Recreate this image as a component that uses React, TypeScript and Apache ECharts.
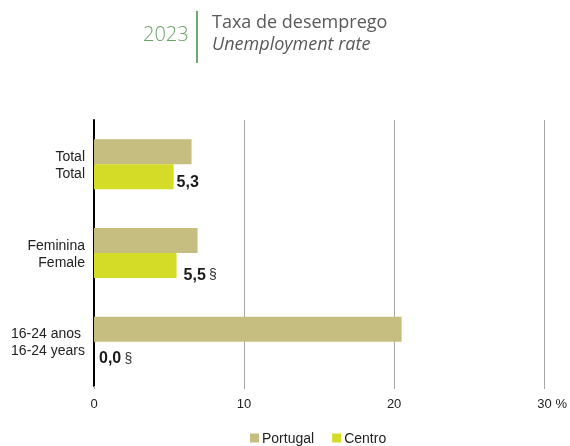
import React, { useEffect, useRef } from "react";
import * as echarts from "echarts";

const categories = ["Total\nTotal", "Feminina\nFemale", "16-24 anos \n16-24 years"];
const portugal = [6.5, 6.9, 20.5];
const centro = [5.3, 5.5, 0.0];
const centroNotes = ["", "§", "§"];
const xTicks = [0, 10, 20, 30];
const seriesNames = ["Portugal", "Centro"];
const year = "2023";
const titlePt = "Taxa de desemprego";
const titleEn = "Unemployment rate";

const labelOffsets = [
  { dist: 3, dy: 4.5 },
  { dist: 7, dy: 8.5 },
  { dist: 5, dy: 3.5 },
];

const fmt = (v: number) => v.toFixed(1).replace(".", ",");

export default function App() {
  const ref = useRef<HTMLDivElement>(null);
  useEffect(() => {
    if (!ref.current) return;
    const chart = echarts.init(ref.current, undefined, { renderer: "svg" });
    const font = "'Liberation Sans', Arial, sans-serif";
    const head = "'Open Sans', 'Noto Sans', sans-serif";
    chart.setOption({
      animation: false,
      textStyle: { fontFamily: font },
      grid: { left: 94, right: 25, top: 120, bottom: 60, containLabel: false },
      legend: {
        data: seriesNames,
        left: 245,
        top: 426,
        icon: "rect",
        itemWidth: 9,
        itemHeight: 9,
        itemGap: 18,
        textStyle: { fontSize: 14, color: "#222", fontFamily: font, padding: [0, 0, 0, -2] },
      },
      xAxis: {
        type: "value",
        min: xTicks[0],
        max: xTicks[xTicks.length - 1],
        interval: 10,
        axisLine: { show: false },
        axisTick: { show: true, length: 3, lineStyle: { color: "#a6a6a6" } },
        splitLine: { show: true, lineStyle: { color: "#a6a6a6", width: 1 } },
        axisLabel: {
          fontSize: 13,
          color: "#222",
          margin: 11,
          fontFamily: font,
          formatter: (v: number) => (v === xTicks[xTicks.length - 1] ? "{p|" + v + " %}" : String(v)),
          rich: { p: { fontSize: 13, color: "#222", fontFamily: font, padding: [0, 0, 0, 16] } },
        },
      },
      yAxis: {
        type: "category",
        inverse: true,
        data: categories,
        axisLine: { show: true, lineStyle: { color: "#000", width: 2 } },
        axisTick: { show: false },
        axisLabel: { fontSize: 14, color: "#222", lineHeight: 17, margin: 9, fontFamily: font, align: "right" },
      },
      series: [
        {
          name: seriesNames[0],
          type: "bar",
          data: portugal,
          barWidth: 25,
          barGap: "0%",
          itemStyle: { color: "#c6bd80" },
        },
        {
          name: seriesNames[1],
          type: "bar",
          barWidth: 25,
          barGap: "0%",
          itemStyle: { color: "#d4dc27" },
          data: centro.map((v, i) => ({
            value: v,
            label: {
              show: true,
              position: "right",
              distance: labelOffsets[i].dist,
              offset: [0, labelOffsets[i].dy],
              formatter: centroNotes[i] ? "{b|" + fmt(v) + "} {s|" + centroNotes[i] + "}" : "{b|" + fmt(v) + "}",
              rich: {
                b: { fontSize: 16, fontWeight: "bold", color: "#1a1a1a", fontFamily: font },
                s: { fontSize: 14, color: "#333", fontFamily: font },
              },
            },
          })),
        },
      ],
      graphic: [
        {
          type: "text",
          left: 143,
          top: 23,
          style: { text: year, fontSize: 20, fontWeight: 300, fill: "#6aa36a", fontFamily: head },
        },
        {
          type: "line",
          shape: { x1: 197, y1: 11, x2: 197, y2: 63 },
          style: { stroke: "#3f8c3f", lineWidth: 1.5 },
        },
        {
          type: "text",
          left: 212,
          top: 12,
          style: { text: titlePt, fontSize: 18, fill: "#595959", fontFamily: head },
        },
        {
          type: "text",
          left: 212,
          top: 34,
          style: { text: titleEn, fontSize: 18, fontStyle: "italic", fill: "#595959", fontFamily: head },
        },
      ],
    });
    return () => chart.dispose();
  }, []);
  return <div ref={ref} style={{ position: "fixed", left: 0, top: 0, width: 570, height: 446 }} />;
}
